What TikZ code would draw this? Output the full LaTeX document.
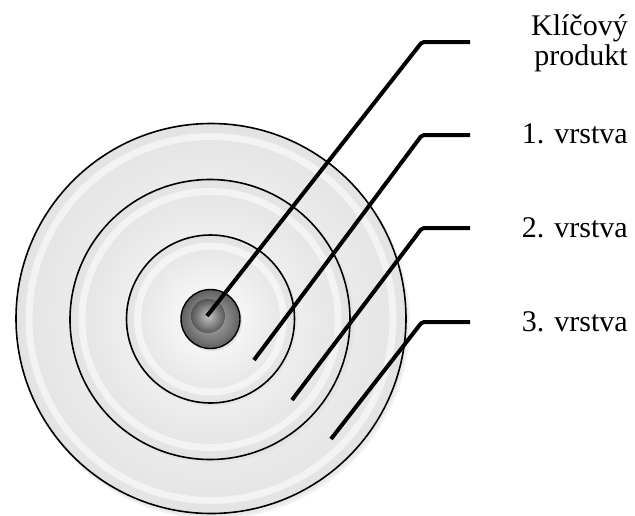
\documentclass[tikz,border=0pt]{standalone}
\usepackage{fontspec}
\setmainfont{Liberation Serif}
\begin{document}
\begin{tikzpicture}[x=1pt,y=-1pt,
  ring/.style={draw=black, line width=1.6pt, inner color=white, outer color=gray!22},
  bevel/.style={draw=white, line width=7pt, opacity=0.55},
  leader/.style={draw=black, line width=4pt, rounded corners=2pt},
  lbl/.style={font=\fontsize{30}{30}\selectfont, anchor=base east, inner sep=0pt}]
\useasboundingbox (0,0) rectangle (635,515);
% soft shadow
\fill[gray!30, opacity=0.35] (214,323) circle (196);
\fill[gray!30, opacity=0.35] (213,322) circle (195);
% discs
\shade[ring] (211,318.5) circle (195);
\draw[bevel] (211,318.5) circle (182);
\fill[gray!30, opacity=0.35] (213,322) circle (141);
\shade[ring] (210,319.5) circle (140);
\draw[bevel] (210,319.5) circle (128);
\fill[gray!30, opacity=0.35] (212,321) circle (85);
\shade[ring] (210.5,319) circle (84);
\draw[bevel] (210.5,319) circle (73);
\fill[gray!40, opacity=0.5] (212,321) circle (30);
\shade[draw=black, line width=1.4pt, inner color=gray!55, outer color=gray!75!black] (210.5,319) circle (29.5);
\shade[inner color=gray!45, outer color=gray!60!black, opacity=0.8] (208,316) circle (17);
% leader points
\coordinate (s1) at (207,316);
\coordinate (s2) at (254,360);
\coordinate (s3) at (292,400);
\coordinate (s4) at (331,439);
\coordinate (c1) at (422,42);
\coordinate (c2) at (422,135);
\coordinate (c3) at (422,228);
\coordinate (c4) at (422,322);
\coordinate (e1) at (470,42);
\coordinate (e2) at (470,135);
\coordinate (e3) at (470,228);
\coordinate (e4) at (470,322);
\draw[leader] (s1) -- (c1) -- (e1);
\draw[leader] (s2) -- (c2) -- (e2);
\draw[leader] (s3) -- (c3) -- (e3);
\draw[leader] (s4) -- (c4) -- (e4);
% labels
\node[lbl] (k1) at (628,35) {Klíčový};
\node[lbl] (k2) at (628,65) {produkt};
\node[lbl] (v1) at (628,143) {1. vrstva};
\node[lbl] (v2) at (628,237) {2. vrstva};
\node[lbl] (v3) at (628,331) {3. vrstva};
\end{tikzpicture}
\end{document}
